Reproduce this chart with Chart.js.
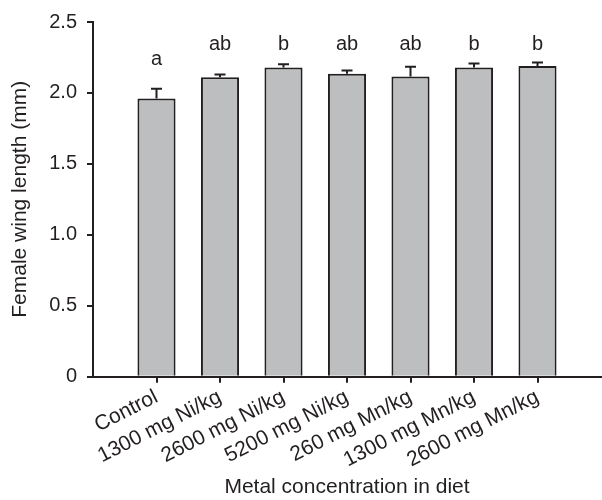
<!DOCTYPE html>
<html>
<head>
<meta charset="utf-8">
<script src="https://cdn.jsdelivr.net/npm/chart.js@4"></script>
<style>
  body { margin: 0; background: #fff; }
  #main-chart { display: block; }
</style>
</head>
<body>
<canvas id="main-chart" width="602" height="500"></canvas>
<script>
// Diet groups
const categories = [
  "Control",
  "1300 mg Ni/kg",
  "2600 mg Ni/kg",
  "5200 mg Ni/kg",
  "260 mg Mn/kg",
  "1300 mg Mn/kg",
  "2600 mg Mn/kg",
];

// Mean wing length (mm) and upper error
const meanLength = [1.96, 2.11, 2.18, 2.135, 2.115, 2.18, 2.19];
const errLength = [0.07, 0.02, 0.022, 0.023, 0.07, 0.027, 0.025];

// Significance letters and the level they sit at
const groupLetters = ["a", "ab", "b", "ab", "ab", "b", "b"];
const letterLevels = [2.2, 2.3, 2.3, 2.3, 2.3, 2.3, 2.3];

// Y axis ticks
const yTicks = [0, 0.5, 1.0, 1.5, 2.0, 2.5];

const ink = "#231f20";
const fontFamily = "'Liberation Sans', Arial, sans-serif";

// Error bars (upper only) and letters above bars
const errorBarPlugin = {
  id: "errorBars",
  afterDatasetsDraw(chart) {
    const ctx = chart.ctx;
    const yScale = chart.scales.y;
    const bars = chart.getDatasetMeta(0).data;
    ctx.save();
    ctx.strokeStyle = ink;
    ctx.lineWidth = 2;
    bars.forEach((bar, i) => {
      const top = yScale.getPixelForValue(meanLength[i] + errLength[i]);
      ctx.beginPath();
      ctx.moveTo(bar.x, bar.y);
      ctx.lineTo(bar.x, top);
      ctx.moveTo(bar.x - 5.5, top);
      ctx.lineTo(bar.x + 5.5, top);
      ctx.stroke();
    });
    ctx.fillStyle = ink;
    ctx.font = "20px " + fontFamily;
    ctx.textAlign = "center";
    ctx.textBaseline = "alphabetic";
    bars.forEach((bar, i) => {
      ctx.fillText(groupLetters[i], bar.x, yScale.getPixelForValue(letterLevels[i]));
    });
    ctx.restore();
  },
};

const ctx = document.getElementById("main-chart").getContext("2d");

const wingChart = new Chart(ctx, {
  type: "bar",
  data: {
    datasets: [
      {
        label: "Female wing length",
        data: meanLength.map((v, i) => ({ x: i + 1, y: v })),
        backgroundColor: "#bcbec0",
        borderColor: ink,
        borderWidth: 2,
        barPercentage: 0.6,
        categoryPercentage: 1,
      },
    ],
  },
  options: {
    responsive: false,
    animation: false,
    layout: {
      padding: { top: 12, right: 1, left: 8, bottom: 0 },
    },
    plugins: {
      legend: { display: false },
      tooltip: { enabled: false },
    },
    scales: {
      x: {
        type: "linear",
        min: 0,
        max: 8,
        offset: false,
        afterBuildTicks: (scale) => {
          scale.ticks = categories.map((c, i) => ({ value: i + 1 }));
        },
        ticks: {
          autoSkip: false,
          maxRotation: 27,
          minRotation: 27,
          padding: 2,
          color: ink,
          font: { family: fontFamily, size: 21 },
          callback: (value) => categories[value - 1],
        },
        grid: {
          offset: false,
          drawOnChartArea: false,
          drawTicks: true,
          tickLength: 6,
          color: ink,
          lineWidth: 2,
        },
        border: { color: ink, width: 2 },
        title: {
          display: true,
          text: "Metal concentration in diet",
          color: ink,
          font: { family: fontFamily, size: 21 },
          padding: { top: 0, bottom: 0 },
        },
      },
      y: {
        min: 0,
        max: 2.5,
        afterBuildTicks: (scale) => {
          scale.ticks = yTicks.map((v) => ({ value: v }));
        },
        ticks: {
          padding: 10,
          color: ink,
          font: { family: fontFamily, size: 20 },
          callback: (value) => (value === 0 ? "0" : value.toFixed(1)),
        },
        grid: {
          drawOnChartArea: false,
          drawTicks: true,
          tickLength: 6,
          color: ink,
          lineWidth: 2,
        },
        border: { color: ink, width: 2 },
        title: {
          display: true,
          text: "Female wing length (mm)",
          color: ink,
          font: { family: fontFamily, size: 21 },
          padding: { top: 0, bottom: 6 },
        },
      },
    },
  },
  plugins: [errorBarPlugin],
});
</script>
</body>
</html>
